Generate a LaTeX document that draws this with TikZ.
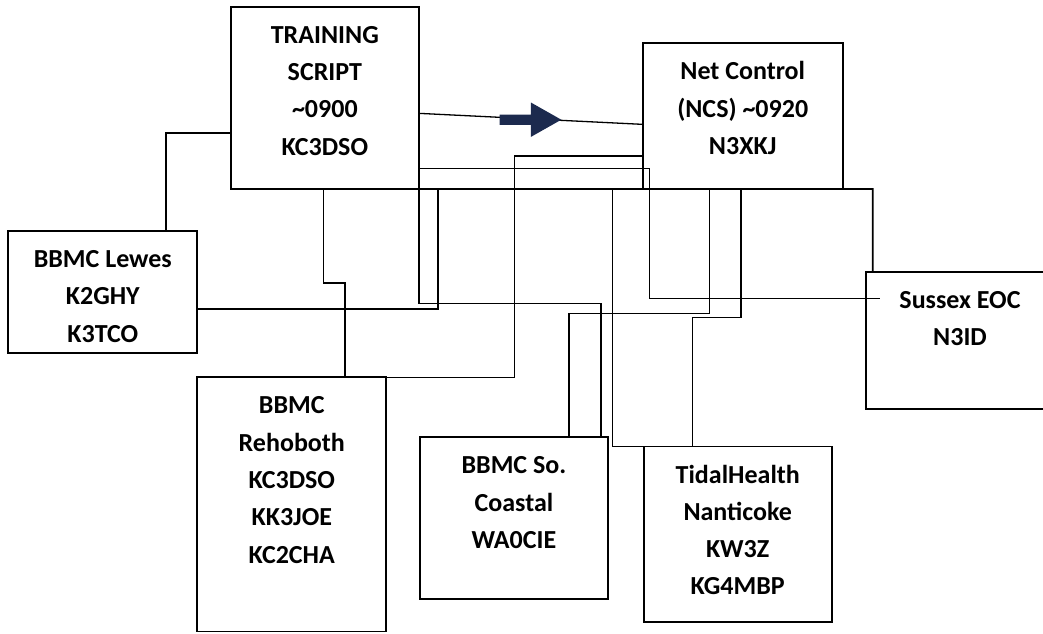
\documentclass[tikz,border=0pt]{standalone}
\usepackage{fontspec}
\setmainfont{Carlito}
\usetikzlibrary{positioning,shapes.arrows}
\definecolor{navy}{HTML}{1C2A4E}
\tikzset{
  station/.style={draw, line width=1.9pt, inner sep=0pt, outer sep=0pt,
    font=\fontsize{26}{37.3}\selectfont\bfseries},
  wire/.style={line width=1.6pt},
}
\newcommand{\stationlines}[3]{\parbox[c][#2][t]{#1}{\centering\rule{0pt}{36.5pt}#3}}

\begin{document}
\begin{tikzpicture}[x=1pt,y=-1pt]
   \useasboundingbox (0,0) rectangle (1043,633);

   \node[station, anchor=north west] (training) at (230.7,6.7)
      {\stationlines{188.3pt}{182.3pt}{TRAINING\\SCRIPT\\\textasciitilde0900\\KC3DSO}};
   \node[station, below right=36.6pt and 223.7pt of training.north east] (netcontrol)
      {\stationlines{200pt}{145.7pt}{Net Control\\(NCS) \textasciitilde0920\\N3XKJ}};
   \node[station, below left=42pt and 33.4pt of training.south west] (lewes)
      {\stationlines{189pt}{121.7pt}{BBMC Lewes\\K2GHY\\K3TCO}};
   \node[station, below right=24.6pt and 0pt of lewes.south east] (rehoboth)
      {\stationlines{189pt}{254.2pt}{BBMC\\Rehoboth\\KC3DSO\\KK3JOE\\KC2CHA}};
   \node[station, below right=60pt and 33.3pt of rehoboth.north east] (coastal)
      {\stationlines{188.7pt}{162pt}{BBMC So.\\Coastal\\WA0CIE}};
   \node[station, below right=9.2pt and 35.6pt of coastal.north east] (tidal)
      {\stationlines{187.7pt}{175.2pt}{TidalHealth\\Nanticoke\\KW3Z\\KG4MBP}};
   \node[station, below right=82.7pt and 23pt of netcontrol.south east] (sussex)
      {\stationlines{188.6pt}{137.6pt}{Sussex EOC\\N3ID}};

   % training to lewes
   \coordinate (t1) at (165.7,132.7);
   \draw[wire] (t1 -| training.west) -- (t1) -- (t1 |- lewes.north);

   % training to rehoboth
   \coordinate (t2) at (323.3,282.7);
   \coordinate (t3) at (345,282.7);
   \draw[wire] (t2 |- training.south) -- (t2) -- (t3) -- (t3 |- rehoboth.north);

   % bottom line out to sussex
   \coordinate (s1) at (872.7,189);
   \draw[wire] (training.south east) -- (s1) -- (s1 |- sussex.north);

   % lewes up to the bottom line
   \coordinate (l1) at (437.7,309);
   \draw[wire] (l1 -| lewes.east) -- (l1) -- (l1 |- training.south);

   % training side to sussex and so. coastal
   \coordinate (s2) at (649.3,168.5);
   \coordinate (s3) at (649.3,298.3);
   \coordinate (s4) at (880,298.3);
   \coordinate (c1) at (600.7,303.3);
   \draw[wire] (s2 -| training.east) -- (s2) -- (s3) -- (s4);
   \draw[wire] (s2 -| training.east) |- (c1) -- (c1 |- coastal.north);

   % net control to rehoboth
   \coordinate (n1) at (514.3,155.7);
   \draw[wire] (n1 -| netcontrol.west) -- (n1) |- (rehoboth.north east);

   % bottom line to tidalhealth
   \coordinate (h1) at (612.3,189);
   \draw[wire] (h1) |- (tidal.north west);

   % net control to so. coastal
   \coordinate (n2) at (709.3,313.3);
   \coordinate (c2) at (569,313.3);
   \draw[wire] (n2 |- netcontrol.south) -- (n2) -- (c2) -- (c2 |- coastal.north);

   % net control to tidalhealth
   \coordinate (n3) at (741,317.5);
   \coordinate (h2) at (692.5,317.5);
   \draw[wire] (n3 |- netcontrol.south) -- (n3) -- (h2) -- (h2 |- tidal.north);

   % script hand-off
   \draw[line width=1.3pt] ([yshift=-15.5pt]training.east) -- ([yshift=-8.2pt]netcontrol.west);
   \coordinate (tip) at (561.7,119.7);
   \node[single arrow, fill=navy, inner sep=0pt, minimum height=61.7pt,
      single arrow head extend=12pt, single arrow tip angle=59, anchor=tip] (handoff)
      at (tip) {\rule{0pt}{10pt}};

\end{tikzpicture}
\end{document}
